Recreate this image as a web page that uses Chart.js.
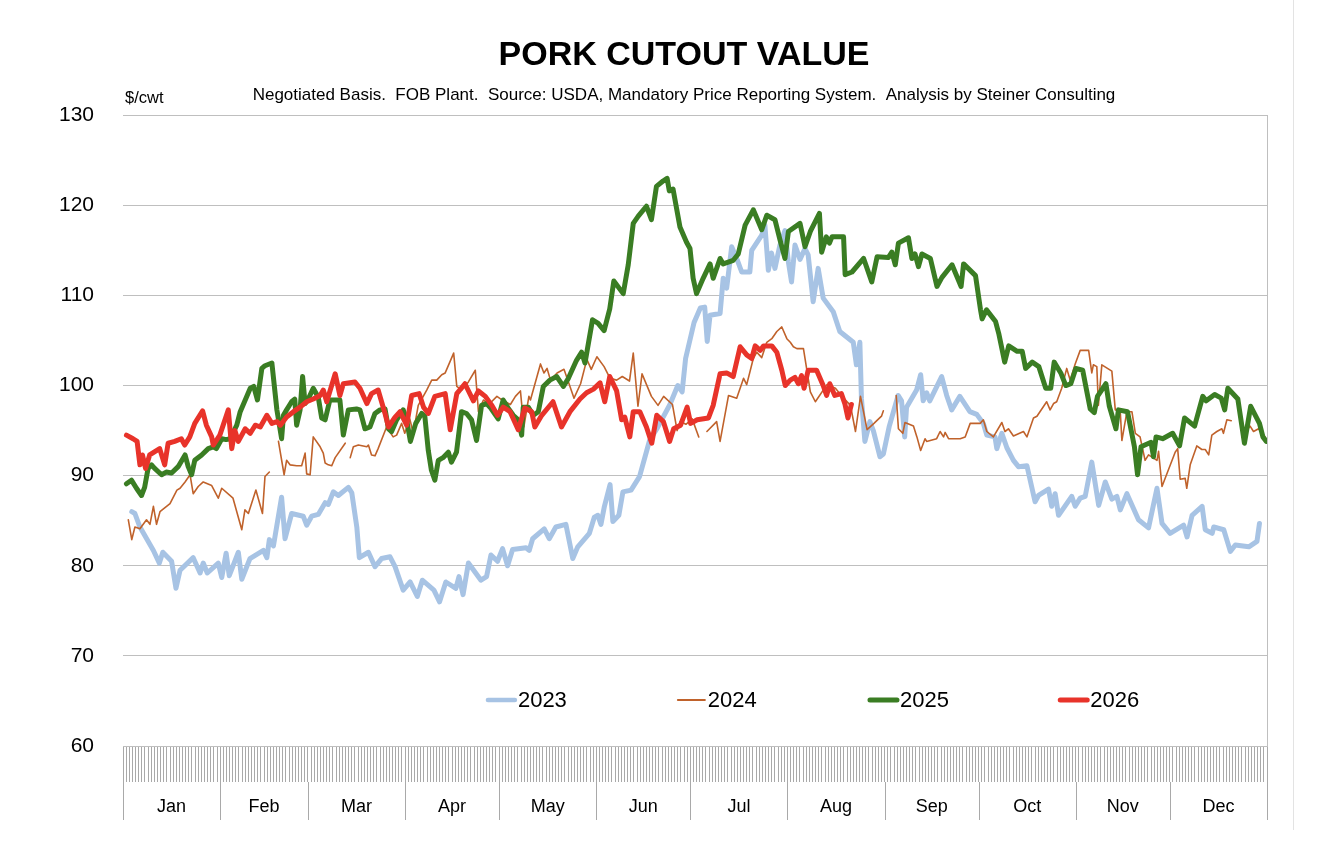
<!DOCTYPE html>
<html>
<head>
<meta charset="utf-8">
<title>Pork Cutout Value</title>
<script src="https://cdn.jsdelivr.net/npm/chart.js@4.4.1/dist/chart.umd.min.js"></script>
<style>
  html, body { margin: 0; padding: 0; background: #fff; }
  #wrap { width: 1330px; height: 860px; position: relative; }
</style>
</head>
<body>
<div id="wrap"><canvas id="cutout"></canvas></div>
<script>
/* ── Data: day of year (0 = Jan 1) and $/cwt ── */

const days2023 = [2.8,3.8,5.4,9.7,11.6,12.7,15.5,16.9,18.2,22.4,24.6,25.6,26.9,30.4,31.5,32.9,33.9,36.8,37.9,40.5,44.8,45.9,46.7,48.0,50.6,51.7,53.8,57.5,58.6,60.2,62.3,64.5,65.5,67.1,68.7,71.9,73.0,74.6,75.4,78.3,80.4,82.5,85.2,86.8,89.4,91.6,93.9,95.5,99.2,101.0,103.0,106.2,107.2,108.5,110.2,114.2,116.0,117.4,119.5,121.1,122.7,124.3,128.6,129.6,130.7,134.4,136.0,138.1,141.3,143.5,145.1,148.8,150.4,151.5,152.5,153.6,155.4,156.3,158.2,159.5,162.1,164.8,168.0,170.5,174.5,177.0,178.4,179.5,182.2,184.2,185.6,186.4,187.3,190.5,191.5,192.6,194.2,195.8,197.4,200.0,200.6,203.8,204.8,205.9,206.9,208.0,209.6,211.2,212.3,213.3,214.4,216.0,217.6,218.6,220.2,221.8,223.4,226.6,228.7,233.0,234.0,235.1,235.6,236.7,238.3,239.4,241.5,242.6,244.5,247.3,248.4,249.4,250.0,253.2,254.5,255.3,256.4,257.4,261.2,262.8,264.4,267.0,270.2,272.4,274.5,275.6,278.2,278.8,280.4,282.0,284.1,285.7,288.4,291.0,292.1,295.3,296.3,297.4,298.5,302.7,303.8,305.4,307.0,309.1,311.3,313.4,315.5,317.1,318.2,320.3,324.0,327.2,329.9,331.5,334.1,338.4,339.5,341.1,344.3,345.3,347.5,348.0,351.2,353.3,354.9,359.2,361.8,362.6];
const price2023 = [86.0,85.8,84.3,81.7,80.3,81.5,80.5,77.5,79.5,80.9,79.2,80.3,79.2,80.3,78.7,81.4,78.9,81.5,78.5,80.8,81.7,80.9,82.9,82.2,87.6,83.0,85.8,85.5,84.5,85.5,85.7,87.0,86.8,88.2,87.8,88.7,88.1,84.3,80.9,81.5,79.9,80.8,81.0,79.9,77.3,78.2,76.6,78.4,77.3,76.0,78.2,77.5,78.8,76.8,80.3,78.4,78.8,81.2,80.5,81.9,80.0,81.8,82.0,81.7,83.0,84.1,83.0,84.3,84.6,80.8,82.1,83.6,85.4,85.6,84.6,86.6,89.0,84.9,85.6,88.2,88.4,89.9,93.9,95.3,97.9,100.0,99.3,103.0,107.0,108.6,108.7,104.9,107.8,108.0,111.9,110.8,115.4,114.1,112.6,112.6,115.0,116.7,117.8,112.8,114.7,113.0,115.6,117.2,113.7,111.5,115.6,114.0,115.2,114.5,109.3,113.0,109.7,108.2,106.0,104.8,102.3,104.8,98.6,93.8,96.0,95.0,92.1,92.4,95.5,98.9,98.3,94.3,97.6,99.5,101.2,98.3,99.2,98.3,101.0,98.9,97.3,98.8,97.1,96.8,95.8,94.5,94.3,93.0,94.7,93.1,91.7,91.0,91.1,87.1,87.8,88.5,86.6,88.0,85.6,87.7,86.6,87.5,87.7,91.5,86.7,89.3,87.4,87.7,86.2,88.0,85.1,84.2,88.6,84.7,83.6,84.5,83.2,85.6,86.6,84.0,83.6,84.3,84.0,81.6,82.3,82.1,82.7,84.7];

// null marks a break in the 2024 line
const days2024 = [1.7,2.8,3.8,5.4,7.5,8.6,9.7,10.7,11.8,15.0,17.2,18.2,19.8,21.4,22.4,24.0,25.6,28.3,30.4,31.5,35.1,37.9,38.9,40.0,42.4,44.5,45.3,46.7,48.0,49.6,51.4,52.2,53.3,55.4,57.0,58.1,58.6,59.7,60.7,62.9,63.9,64.5,65.5,66.6,67.7,70.9,71.7,72.5,73.5,75.1,77.8,78.3,79.3,80.4,81.4,84.1,86.2,87.3,88.9,89.9,91.5,92.6,94.2,96.9,98.5,100.1,101.7,102.8,105.5,106.5,108.1,110.2,112.4,113.4,115.0,116.7,119.3,120.9,123.6,125.2,126.8,127.9,129.5,130.0,131.6,133.2,134.3,135.3,136.4,138.5,140.7,142.2,143.9,146.0,148.0,149.4,151.2,153.5,155.4,157.5,159.3,161.6,162.8,164.3,165.6,168.6,170.7,172.5,175.3,176.8,177.8,179.6,181.6,183.7,185.0,186.3,189.4,190.5,193.2,195.8,198.0,199.0,201.1,202.2,203.8,205.4,207.0,208.6,210.2,211.8,212.9,213.9,215.0,217.1,219.3,220.9,224.6,227.3,229.9,232.1,233.7,235.3,237.4,239.6,242.0,242.6,244.5,246.7,247.4,248.8,249.5,252.2,253.3,254.5,255.9,256.4,259.6,260.7,261.8,262.3,263.4,267.1,268.7,270.3,273.5,274.5,275.6,277.7,280.4,281.4,282.5,284.1,287.3,288.4,290.5,291.6,294.7,295.8,296.9,297.9,299.5,301.1,302.2,303.8,305.4,308.1,309.1,309.6,310.7,311.2,312.3,315.5,316.6,318.2,318.7,320.3,321.9,323.0,324.5,326.1,327.2,329.9,330.4,331.5,335.7,336.5,337.3,338.9,339.4,340.5,342.6,344.2,345.3,346.4,347.4,349.0,350.6,351.1,352.2,353.6,355.3,357.0,359.6,360.7,362.3,364.4];
const price2024 = [85.1,82.9,84.3,84.1,85.1,84.6,86.6,84.6,86.0,86.9,88.4,88.6,89.3,90.1,88.0,88.8,89.3,88.9,87.5,88.6,87.5,84.0,86.2,85.8,88.4,85.8,89.9,90.4,null,93.8,90.1,91.7,91.2,91.1,91.1,92.5,90.2,90.1,94.3,93.2,92.5,91.4,91.2,91.1,92.0,93.6,null,92.0,93.2,93.4,93.2,93.4,92.3,92.2,93.0,95.4,94.3,94.5,95.8,94.7,96.3,94.7,97.8,99.5,100.6,100.6,101.2,101.4,103.6,99.9,99.5,100.4,101.7,97.1,98.4,97.9,98.8,98.4,97.9,98.8,99.4,95.4,98.8,98.4,100.4,102.4,101.4,101.9,100.6,101.4,101.8,100.3,98.6,100.2,102.9,101.8,103.2,102.1,100.8,100.6,101.0,100.5,103.6,97.7,101.3,98.8,97.8,98.8,97.9,95.0,96.0,95.7,96.3,94.3,null,94.9,96.0,93.8,98.9,98.6,100.8,100.1,103.0,103.7,103.1,104.8,105.2,106.0,106.5,105.2,104.8,104.3,104.1,104.1,99.3,98.2,100.1,99.7,98.6,97.8,94.9,98.8,95.1,95.8,96.6,97.2,null,98.9,95.2,94.7,95.9,95.5,94.3,92.8,94.1,93.8,94.1,94.9,94.3,94.8,94.1,94.1,94.3,95.8,95.8,96.2,94.9,94.3,95.9,94.9,95.2,94.4,94.9,94.3,96.4,96.6,98.2,97.3,98.0,98.2,99.7,101.9,100.6,102.4,103.9,103.9,101.4,102.3,102.1,97.8,102.3,101.6,97.3,97.0,93.9,97.1,97.1,94.7,94.3,91.7,92.3,91.7,92.7,88.8,92.6,93.0,89.6,89.7,88.6,91.2,93.3,92.9,92.9,92.3,94.5,94.9,95.2,94.7,96.2,96.1,null,94.3,95.5,94.9,95.2,94.3];

const days2025 = [1.1,2.7,4.3,5.9,6.9,8.0,9.1,10.1,12.3,13.8,15.5,17.6,19.8,20.8,21.9,22.9,25.1,27.2,28.8,29.8,31.5,32.9,34.2,36.3,37.4,39.0,40.6,41.7,42.9,44.3,45.3,47.5,49.1,50.6,51.2,52.2,53.8,54.8,55.4,56.5,57.3,58.1,59.1,60.7,62.3,63.4,64.5,66.0,69.2,70.3,71.9,74.5,75.6,77.2,78.8,80.4,82.0,83.6,84.7,85.7,87.3,89.4,90.5,91.7,93.4,95.3,96.3,97.4,98.4,99.5,100.6,102.1,103.8,104.8,106.4,108.0,109.6,111.2,112.8,114.4,116.0,117.1,119.7,121.3,122.9,124.5,126.1,127.2,127.7,129.3,130.9,132.5,134.1,136.2,138.4,140.5,142.1,144.7,146.3,147.4,149.8,151.6,153.5,155.3,156.6,159.6,161.2,162.8,164.4,167.0,168.6,170.2,172.3,173.6,174.3,175.5,177.7,179.8,180.9,181.9,183.0,185.1,187.3,188.3,190.5,191.5,194.7,196.3,198.5,201.1,203.8,205.4,208.0,209.6,211.2,212.3,216.0,217.6,219.3,222.2,222.9,224.4,225.4,226.2,229.9,230.4,232.6,236.3,238.9,240.6,244.2,245.3,246.4,247.4,250.6,251.7,252.7,253.8,254.9,257.6,259.7,261.3,264.5,267.4,268.2,272.0,273.6,274.1,275.5,278.4,279.4,281.3,282.6,285.3,286.9,288.0,290.1,292.2,294.4,296.0,297.1,299.2,300.8,302.4,304.0,306.2,307.2,308.6,309.9,310.9,313.6,314.7,316.8,317.6,320.5,322.7,323.7,324.8,328.0,328.8,329.6,331.7,334.9,337.1,338.7,341.9,344.5,345.6,348.3,350.4,351.5,352.5,355.7,357.8,359.8,362.6,363.7,364.8];
const price2025 = [89.1,89.5,88.6,87.8,88.7,90.8,91.2,90.8,90.1,90.4,90.3,91.0,92.3,91.0,90.1,91.7,92.3,93.0,93.2,93.0,94.1,94.0,94.1,95.6,97.1,98.4,99.7,99.9,98.4,101.9,102.2,102.5,97.3,94.1,96.7,97.3,98.2,98.5,95.6,97.3,101.0,98.0,98.5,99.7,98.7,96.4,96.2,98.4,98.4,94.5,97.3,97.4,97.3,95.2,95.4,96.9,97.3,97.4,95.2,94.9,96.2,97.3,96.2,93.8,95.8,96.9,96.6,92.8,90.6,89.5,91.7,92.0,92.6,91.5,92.6,97.1,96.9,96.2,93.9,97.8,98.0,97.6,96.3,98.4,97.5,96.7,96.2,94.5,97.6,97.6,96.7,97.1,99.9,100.6,101.0,99.9,100.8,102.8,103.7,102.5,107.3,106.9,106.1,108.5,111.6,110.2,113.4,118.0,118.8,119.9,118.4,122.1,122.7,123.0,121.6,121.8,117.6,115.9,115.2,111.9,110.2,111.9,113.5,111.9,114.1,113.5,113.9,114.6,117.8,119.5,117.3,118.9,118.4,116.2,114.1,117.1,118.0,115.4,117.1,119.1,114.8,116.5,115.8,116.5,116.5,112.3,112.6,114.1,111.5,114.3,114.2,114.8,113.4,115.8,116.4,114.1,114.6,113.2,114.6,114.1,111.0,112.0,113.4,111.0,113.5,112.2,108.4,107.4,108.4,107.1,105.8,102.6,104.4,103.8,103.8,101.9,102.6,102.1,99.7,99.7,102.6,101.4,100.0,100.2,101.9,101.7,99.9,97.4,97.0,98.8,100.2,97.7,95.2,97.3,97.1,93.2,90.1,93.2,93.7,92.1,94.3,94.1,94.7,93.3,96.4,95.5,98.8,98.3,99.0,98.6,97.3,99.7,98.5,93.6,97.7,95.8,94.3,93.8];

const days2026 = [1.1,3.2,4.5,5.4,6.2,7.2,8.5,11.7,13.3,14.4,16.5,18.6,19.7,21.3,22.9,25.4,26.6,28.3,28.8,30.9,33.6,34.7,35.7,36.8,39.0,40.6,42.2,43.8,45.9,47.5,49.1,50.2,52.2,54.4,56.5,58.6,60.7,62.9,63.9,65.0,67.7,69.2,70.3,74.0,75.6,77.8,79.3,81.4,83.6,84.7,86.8,88.4,90.5,92.1,94.5,95.9,97.4,99.5,102.8,104.4,106.5,109.1,111.8,113.4,115.6,117.7,119.5,121.3,123.5,126.1,128.2,130.4,131.4,133.6,137.2,139.9,142.6,145.8,147.9,150.1,152.2,153.7,155.3,157.5,159.1,160.1,161.7,162.8,164.9,167.0,168.7,170.3,172.4,174.4,175.7,177.9,180.0,181.1,183.2,186.8,188.3,190.5,192.6,194.7,196.9,199.0,200.6,201.7,203.3,204.4,207.0,208.6,210.2,211.3,212.9,214.4,215.5,216.5,217.3,218.6,221.3,223.4,224.5,225.5,227.1,229.2,230.3,231.3,232.4];
const price2026 = [94.5,94.1,93.8,91.2,92.3,90.8,92.3,93.0,91.2,93.6,93.8,94.1,93.4,94.3,95.8,97.2,95.6,94.3,93.4,94.5,97.3,93.0,95.0,93.8,95.2,94.7,95.6,95.4,96.7,95.8,96.0,95.6,96.5,97.1,97.6,98.2,98.5,98.9,99.5,98.2,101.3,98.9,100.2,100.4,99.7,98.0,99.1,99.5,96.9,95.4,96.5,97.1,95.6,98.9,99.1,97.6,96.9,98.8,99.1,95.1,99.1,100.2,98.3,99.4,98.8,97.8,96.7,97.6,97.1,95.1,97.5,97.1,95.4,96.7,98.2,95.4,97.1,98.5,99.2,99.6,100.3,98.2,101.0,99.4,96.2,96.5,94.3,97.1,97.1,95.4,93.6,96.7,96.0,93.8,95.2,95.6,97.6,95.8,96.2,96.4,97.8,101.3,101.4,101.0,104.3,103.4,103.0,104.4,103.9,104.4,104.4,103.7,101.7,100.0,100.6,100.9,100.2,101.1,99.7,101.7,101.7,100.0,98.9,100.2,98.9,99.1,98.0,96.4,97.9];

/* ── Axis labels ── */
const monthNames  = ["Jan","Feb","Mar","Apr","May","Jun","Jul","Aug","Sep","Oct","Nov","Dec"];
const monthStarts = [0, 31, 59, 90, 120, 151, 181, 212, 243, 273, 304, 334, 365];
const yTicks      = [60, 130, 10];   // min, max, step

/* ── Look ── */
const FONT = '"Liberation Sans", Arial, Helvetica, sans-serif';
const GRID = "#bfbfbf";
const BAND = "#a9a9a9";
const BAND_H = 36;          // height of the daily tick band
const AXIS_H = 74;          // band + month label row

const series = [
  { label: "2023", days: days2023, price: price2023, color: "#a7c3e4", width: 5,   legendWidth: 4.5, order: 4 },
  { label: "2024", days: days2024, price: price2024, color: "#c0622b", width: 1.6, legendWidth: 2,   order: 3 },
  { label: "2025", days: days2025, price: price2025, color: "#3a7d23", width: 5,   legendWidth: 5,   order: 2 },
  { label: "2026", days: days2026, price: price2026, color: "#e8332a", width: 5,   legendWidth: 5,   order: 1 },
];

// legend sits inside the plot: text start (day of year) and price level
const legendDays  = [126.0, 186.6, 247.9, 308.6];
const legendLevel = 65.1;

/* month label ticks sit half way through each month */
const monthMid = {};
monthNames.forEach((m, i) => {
  monthMid[(monthStarts[i] + monthStarts[i + 1]) / 2 + 0.001] = m;
});
const xTickValues = [];
for (let d = 0; d <= 365; d++) xTickValues.push(d);
Object.keys(monthMid).forEach((k) => xTickValues.push(Number(k)));
xTickValues.sort((a, b) => a - b);

/* ── Plugins ── */
const monthSeparators = {
  id: "monthSeparators",
  afterDraw(chart) {
    const { ctx, chartArea, scales: { x } } = chart;
    ctx.save();
    ctx.strokeStyle = BAND;
    ctx.lineWidth = 1;
    monthStarts.forEach((d) => {
      const px = Math.round(x.getPixelForValue(d)) + 0.5;
      ctx.beginPath();
      ctx.moveTo(px, chartArea.bottom + BAND_H);
      ctx.lineTo(px, chartArea.bottom + AXIS_H);
      ctx.stroke();
    });
    // faint frame line of the chart object
    ctx.strokeStyle = "#e3e3e3";
    ctx.beginPath();
    ctx.moveTo(chart.width - 36.5, 0);
    ctx.lineTo(chart.width - 36.5, chart.height - 30);
    ctx.stroke();
    // unit label
    ctx.fillStyle = "#000";
    ctx.font = "16.5px " + FONT;
    ctx.textBaseline = "middle";
    ctx.textAlign = "left";
    ctx.fillText("$/cwt", chartArea.left + 2, chartArea.top - 17);
    ctx.restore();
  },
};

const yearLegend = {
  id: "yearLegend",
  afterDatasetsDraw(chart) {
    const { ctx, scales: { x, y } } = chart;
    const yy = y.getPixelForValue(legendLevel);
    ctx.save();
    ctx.font = "22px " + FONT;
    ctx.textBaseline = "middle";
    ctx.textAlign = "left";
    series.forEach((s, i) => {
      const tx = x.getPixelForValue(legendDays[i]);
      ctx.strokeStyle = s.color;
      ctx.lineWidth = s.legendWidth;
      ctx.lineCap = "round";
      ctx.beginPath();
      ctx.moveTo(tx - 30, yy);
      ctx.lineTo(tx - 3, yy);
      ctx.stroke();
      ctx.fillStyle = "#000";
      ctx.fillText(s.label, tx, yy + 1);
    });
    ctx.restore();
  },
};

/* ── Chart ── */
new Chart(document.getElementById("cutout"), {
  type: "line",
  data: {
    datasets: series.map((s) => ({
      label: s.label,
      data: s.days.map((d, i) => ({ x: d, y: s.price[i] })),
      borderColor: s.color,
      backgroundColor: s.color,
      borderWidth: s.width,
      borderJoinStyle: "round",
      borderCapStyle: "round",
      pointRadius: 0,
      pointHoverRadius: 0,
      tension: 0,
      spanGaps: false,
      order: s.order,
    })),
  },
  options: {
    responsive: true,
    maintainAspectRatio: false,
    animation: false,
    devicePixelRatio: 1,
    layout: { padding: { left: 59, right: 21, top: 0, bottom: 40 } },
    plugins: {
      legend: { display: false },
      tooltip: { enabled: false },
      title: {
        display: true,
        text: "PORK CUTOUT VALUE",
        color: "#000",
        font: { family: FONT, size: 34, weight: "bold" },
        padding: { top: 35, bottom: 0 },
      },
      subtitle: {
        display: true,
        text: "Negotiated Basis.  FOB Plant.  Source: USDA, Mandatory Price Reporting System.  Analysis by Steiner Consulting",
        color: "#000",
        font: { family: FONT, size: 17 },
        padding: { top: 9, bottom: 10 },
      },
    },
    scales: {
      x: {
        type: "linear",
        min: 0,
        max: 365,
        afterBuildTicks: (scale) => {
          scale.ticks = xTickValues.map((v) => ({ value: v }));
        },
        afterFit: (scale) => { scale.height = AXIS_H; },
        border: { display: true, color: GRID, width: 1 },
        grid: {
          drawOnChartArea: false,
          drawTicks: true,
          tickLength: BAND_H,
          lineWidth: 1,
          color: (c) => (c.tick && Number.isInteger(c.tick.value) ? BAND : "rgba(0,0,0,0)"),
        },
        ticks: {
          autoSkip: false,
          maxRotation: 0,
          minRotation: 0,
          padding: 14,
          color: "#000",
          font: { family: FONT, size: 18 },
          callback: (v) => monthMid[v] || "",
        },
      },
      y: {
        min: yTicks[0],
        max: yTicks[1],
        afterFit: (scale) => { scale.width = 64; },
        border: { display: false },
        grid: { color: GRID, lineWidth: 1, drawTicks: false },
        ticks: {
          stepSize: yTicks[2],
          padding: 29,
          color: "#000",
          font: { family: FONT, size: 21 },
        },
      },
      // empty right axis: gives the plot its right border and balances the title
      yRight: {
        position: "right",
        min: yTicks[0],
        max: yTicks[1],
        afterFit: (scale) => { scale.width = 42; },
        border: { display: true, color: GRID, width: 1 },
        grid: { display: false },
        ticks: { display: false },
      },
    },
  },
  plugins: [monthSeparators, yearLegend],
});
</script>
</body>
</html>
